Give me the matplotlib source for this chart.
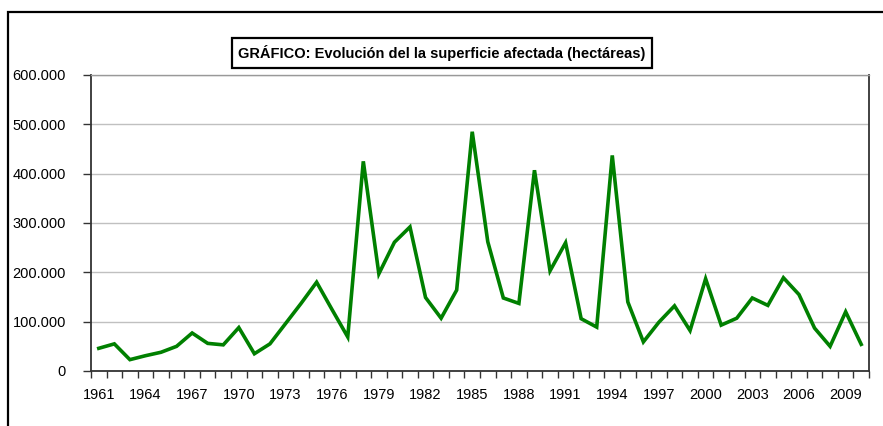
import matplotlib.pyplot as plt
from matplotlib.patches import Rectangle
from matplotlib.ticker import FuncFormatter

plt.rcParams['font.family'] = ['Liberation Sans', 'DejaVu Sans']

years = list(range(1961, 2011))
hectareas = [46000, 55000, 23000, 31000, 38000, 50000, 77000, 56000, 53000, 88000,
             35000, 55000, 96000, 137000, 180000, 124000, 69000, 425000, 197000, 261000,
             292000, 149000, 107000, 164000, 485000, 262000, 148000, 137000, 407000, 203000,
             260000, 106000, 89000, 437000, 140000, 59000, 99000, 132000, 82000, 187000,
             93000, 107000, 148000, 133000, 189000, 155000, 87000, 50000, 120000, 54000]

fig = plt.figure(figsize=(8.83, 4.26), dpi=100)
ax = fig.add_axes([91 / 883, 55 / 426, 778 / 883, 296 / 426])

pos = list(range(len(years)))
ax.plot(pos, hectareas, color='#008000', linewidth=2.6, solid_joinstyle='miter')

ax.set_xlim(-0.5, len(years) - 0.5)
ax.set_ylim(0, 600000)
ax.set_yticks(range(0, 600001, 100000))
ax.yaxis.set_major_formatter(FuncFormatter(lambda v, p: f'{int(v):,}'.replace(',', '.')))
ax.grid(axis='y', color='#c0c0c0', linewidth=1)
ax.set_axisbelow(True)

# tick marks between categories, labels every third year
ax.set_xticks([p - 0.5 for p in range(len(years) + 1)], minor=True)
ax.set_xticks(pos[::3])
ax.set_xticklabels([str(y) for y in years[::3]])
ax.tick_params(axis='x', which='major', length=0, pad=12, labelsize=10.5)
ax.tick_params(axis='x', which='minor', length=5, width=1, color='#333333')
ax.tick_params(axis='y', length=6, width=1, color='#333333', pad=12, labelsize=10.5)

for s in ['left', 'bottom', 'right']:
    ax.spines[s].set_color('#333333')
    ax.spines[s].set_linewidth(1.3)
ax.spines['top'].set_color('#999999')
ax.spines['top'].set_linewidth(1)

fig.text(442 / 883, 1 - 53 / 426, 'GRÁFICO: Evolución del la superficie afectada (hectáreas)',
         ha='center', va='center', fontsize=10.5, fontweight='bold',
         bbox=dict(boxstyle='square,pad=0.45', facecolor='white', edgecolor='black', linewidth=1.6))

# outer chart frame
fig.patches.append(Rectangle((8 / 883, -0.1), 1.1, 1 - 12 / 426 + 0.1, transform=fig.transFigure,
                             fill=False, edgecolor='black', linewidth=1.6))

fig.savefig('out.png', dpi=100)
